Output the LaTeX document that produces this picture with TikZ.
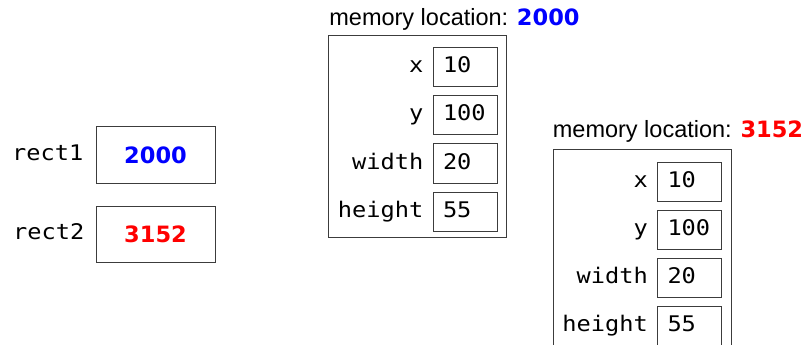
\documentclass[tikz,border=0pt]{standalone}
\usepackage{fontspec}
\setmainfont{Liberation Sans}
\newfontfamily\codefont[FakeStretch=1.1]{DejaVu Sans Mono}
\newfontfamily\numfont{DejaVu Sans}
\definecolor{addrblue}{RGB}{0,0,255}
\definecolor{addrred}{RGB}{255,0,0}
\definecolor{framegray}{RGB}{60,60,60}
\usetikzlibrary{positioning,fit}

\begin{document}
\begin{tikzpicture}[x=1pt,y=-1pt,node distance=8pt]
  \tikzstyle{field}=[rectangle,draw=framegray,line width=1pt,minimum height=39pt,text width=44pt,inner xsep=10pt,align=left,text height=15pt,text depth=4pt,font=\codefont\fontsize{21.5}{24}\selectfont]
  \tikzstyle{fname}=[inner sep=0pt,text height=15pt,text depth=4pt,font=\codefont\fontsize{21.5}{24}\selectfont]
  \tikzstyle{frame}=[rectangle,draw=framegray,line width=1pt,inner sep=9pt,yshift=3pt]
  \tikzstyle{heading}=[anchor=base west,inner sep=0pt,font=\fontsize{23.5}{28}\selectfont]
  \tikzstyle{pointer}=[rectangle,draw=framegray,line width=1pt,minimum width=119pt,minimum height=56pt,font=\numfont\bfseries\fontsize{22.5}{26}\selectfont]
  \useasboundingbox (0,0) rectangle (807,345);
  % variables
  \node[pointer,text=addrblue] (rect1) at (155.5,155) {2000};
  \node[pointer,text=addrred,below=22pt of rect1] (rect2) {3152};
  \node[fname,left=12pt of rect1] (rect1lbl) {rect1};
  \node[fname,left=11pt of rect2] (rect2lbl) {rect2};
  % object at 2000
  \node[field] (xa) at (465,67.5) {10};
  \node[field,below=of xa] (ya) {100};
  \node[field,below=of ya] (wa) {20};
  \node[field,below=of wa] (ha) {55};
  \node[fname,left=9pt of xa] (xalbl) {x};
  \node[fname,left=9pt of ya] (yalbl) {y};
  \node[fname,left=9pt of wa] (walbl) {width};
  \node[fname,left=9pt of ha] (halbl) {height};
  \node[frame,fit=(halbl)(xa)(ha)] (mema) {};
  \node[heading] (titlea) at ([xshift=1pt,yshift=9pt]mema.north west) {memory location: \textcolor{addrblue}{\numfont\bfseries\fontsize{22.5}{26}\selectfont 2000}};
  % object at 3152
  \node[field] (xb) at (689.5,181.5) {10};
  \node[field,below=of xb] (yb) {100};
  \node[field,below=of yb] (wb) {20};
  \node[field,below=of wb] (hb) {55};
  \node[fname,left=9pt of xb] (xblbl) {x};
  \node[fname,left=9pt of yb] (yblbl) {y};
  \node[fname,left=9pt of wb] (wblbl) {width};
  \node[fname,left=9pt of hb] (hblbl) {height};
  \node[frame,fit=(hblbl)(xb)(hb)] (memb) {};
  \node[heading] (titleb) at ([xshift=0pt,yshift=11pt]memb.north west) {memory location: \textcolor{addrred}{\numfont\bfseries\fontsize{22.5}{26}\selectfont 3152}};
\end{tikzpicture}
\end{document}
